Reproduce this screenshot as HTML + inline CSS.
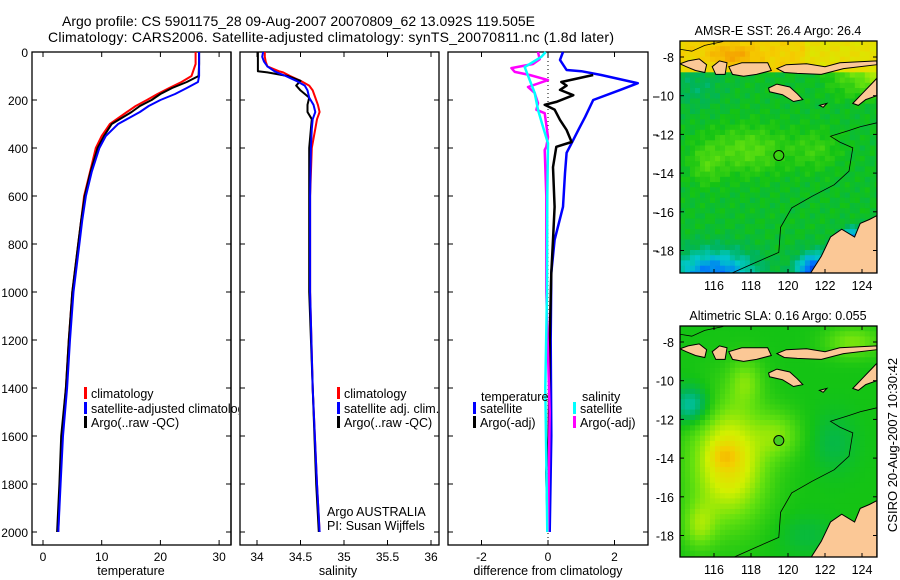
<!DOCTYPE html>
<html><head><meta charset="utf-8"><title>Argo profile</title>
<style>
html,body{margin:0;padding:0;background:#fff;}
svg{display:block;font-family:"Liberation Sans",sans-serif;}
</style></head>
<body>
<svg id="fig" width="900" height="580" viewBox="0 0 900 580" xmlns="http://www.w3.org/2000/svg">
<defs><clipPath id="legclip"><rect x="0" y="380" width="239" height="60"/></clipPath></defs>
<text x="62" y="26" font-size="14" textLength="473">Argo profile: CS 5901175_28 09-Aug-2007 20070809_62 13.092S 119.505E</text>
<text x="48" y="42" font-size="14" textLength="566">Climatology: CARS2006. Satellite-adjusted climatology: synTS_20070811.nc (1.8d later)</text>
<text transform="translate(897,445) rotate(-90)" text-anchor="middle" font-size="13">CSIRO 20-Aug-2007 10:30:42</text>
</svg>
<script>
// ---------- data ----------
const depthT = [0,50,100,125,150,175,200,225,250,300,350,400,500,600,700,800,1000,1200,1400,1600,1800,2000];
const climT = [26.0,26.0,25.3,23.6,21.5,19.5,17.7,15.8,14.3,11.4,10.0,9.0,8.0,7.0,6.5,6.0,5.0,4.4,3.9,3.2,2.9,2.6];
const satT  = [26.6,26.6,26.6,26.4,24.5,22.5,20.0,18.0,16.5,12.8,10.7,9.6,8.3,7.3,6.7,6.2,5.2,4.6,4.1,3.4,3.0,2.6];
const argoT = [26.6,26.6,26.5,24.5,22.0,20.0,18.5,16.5,15.1,11.7,10.4,9.3,8.1,7.1,6.5,6.0,5.0,4.4,3.9,3.1,2.8,2.4];
const depthS = [0,20,40,60,80,85,100,120,140,160,190,220,250,280,320,400,600,1000,1400,1800,2000];
const climS = [34.09,34.09,34.10,34.12,34.25,34.3,34.38,34.5,34.6,34.64,34.67,34.70,34.72,34.69,34.67,34.63,34.61,34.61,34.64,34.69,34.72];
const satS  = [34.07,34.06,34.08,34.12,34.2,34.23,34.33,34.45,34.55,34.58,34.6,34.65,34.67,34.64,34.63,34.62,34.61,34.61,34.64,34.69,34.72];
const argoS = [34.01,34.01,34.01,34.01,34.01,34.12,34.35,34.5,34.45,34.5,34.6,34.58,34.58,34.63,34.62,34.6,34.6,34.6,34.64,34.68,34.71];
const dTsatDepth = [0,33,75,80,96,130,158,200,270,312,380,420,505,645,783,920,1200,1600,2000];
const dTsat = [0.45,0.36,0.56,1.0,1.6,2.7,2.17,1.36,1.12,0.96,0.71,0.56,0.51,0.45,0.2,0.1,0.08,0.1,0.05];
const dTargoDepth = [96,110,125,140,158,180,208,220,240,283,325,375,395,480,645,783,920,1200,1600,1750,2000];
const dTargo = [1.36,0.9,0.4,0.56,0.36,0.76,0.25,-0.1,0.2,0.36,0.56,0.71,0.25,0.15,0.2,0.15,0.1,0.05,0.02,-0.05,0.0];
const dSargoDepth = [0,30,50,67,83,96,117,146,171,213,241,255,354,395,408,600,1000,1500,2000];
const dSargo = [-0.3,-0.25,-0.45,-1.1,-1.0,-0.55,0.0,-0.6,-0.4,-0.3,-0.35,-0.1,0,-0.05,-0.1,-0.05,-0.05,0.05,0.0];
const dSsatDepth = [0,20,63,117,171,241,312,380,600,1000,1400,1700,2000];
const dSsat = [-0.07,-0.2,-0.7,-0.55,-0.4,-0.3,-0.15,0,-0.02,-0.03,-0.08,-0.05,-0.02];
const depthTicks = [0,200,400,600,800,1000,1200,1400,1600,1800,2000];
const tempTicks = [0,10,20,30];
const salTicks = [34,34.5,35,35.5,36];
const salTickLabels = ["34","34.5","35","35.5","36"];
const diffTicks = [-2,0,2];
const lonTicks = [116,118,120,122,124];
const latTicksTop = [-8,-10,-12,-14,-16,-18];
const latTicksBot = [-8,-10,-12,-14,-16,-18];
const argoLon = 119.505, argoLat = -13.092;

const NS="http://www.w3.org/2000/svg";
const svg=document.getElementById('fig');
function mk(tag,attrs,parent){const e=document.createElementNS(NS,tag);for(const k in attrs)e.setAttribute(k,attrs[k]);(parent||svg).appendChild(e);return e;}
const yD = d => 52 + d*0.24;
const PB = 545;

function panel(name,x0,x1,xs,ticks,labels,showY){
  const g=mk('g',{});
  
  
  mk('rect',{x:x0,y:52,width:x1-x0,height:PB-52,fill:'none',stroke:'#000','stroke-width':1.3},g);
  ticks.forEach((t,i)=>{const x=xs(t);
    mk('line',{x1:x,x2:x,y1:PB,y2:PB-5,stroke:'#000'},g);
    mk('line',{x1:x,x2:x,y1:52,y2:57,stroke:'#000'},g);
    const tx=mk('text',{x:x,y:PB+16,'text-anchor':'middle','font-size':12},g);tx.textContent=labels[i];
    
    
  });
  depthTicks.forEach(d=>{const y=yD(d);
    mk('line',{x1:x0,x2:x0+5,y1:y,y2:y,stroke:'#000'},g);
    mk('line',{x1:x1,x2:x1-5,y1:y,y2:y,stroke:'#000'},g);
    if(showY){const tx=mk('text',{x:x0-4,y:y+5,'text-anchor':'end','font-size':12},g);tx.textContent=d;
      
      }
  });
  return g;
}
function line(g,xs,depths,vals,color,w,name){
  const pts=depths.map((d,i)=>xs(vals[i]).toFixed(1)+','+yD(d).toFixed(1)).join(' ');
  const p=mk('polyline',{points:pts,fill:'none',stroke:color,'stroke-width':w,'stroke-linejoin':'round'},g);
  
  
}
function legend(g,x,y,color,label,name){
  mk('rect',{x:x,y:y-10,width:3,height:12,fill:color},g);
  const t=mk('text',{x:x+7,y:y+1,'font-size':12.5},g);t.textContent=label;
  
  
}
function txt(g,x,y,s,name,size,anchor){const t=mk('text',{x:x,y:y,'font-size':size||12.5,'text-anchor':anchor||'start'},g);t.textContent=s;
  
  return t;}

// temperature panel
const xT = v => 43 + v*5.87;
const g1=panel('temperature-panel',32,231,xT,tempTicks,tempTicks.map(String),true);
line(g1,xT,depthT,climT,'#f00',2,'temp-climatology-line');
line(g1,xT,depthT,argoT,'#000',2,'temp-argo-line');
line(g1,xT,depthT,satT,'#00f',2,'temp-satellite-line');
txt(g1,131,575,'temperature','x-axis-title-temperature',12.5,'middle');
const lg1=mk('g',{'clip-path':'url(#legclip)'},g1);
legend(lg1,84,397,'#f00','climatology','legend-climatology');
legend(lg1,84,412,'#00f','satellite-adjusted climatology','legend-satellite-adjusted');
legend(lg1,84,426,'#000','Argo(..raw -QC)','legend-argo');
mk('line',{x1:231,x2:231,y1:52,y2:PB,stroke:'#000','stroke-width':1.3},g1);

// salinity panel
const xS = v => 257 + (v-34)*87;
const g2=panel('salinity-panel',240,439,xS,salTicks,salTickLabels,false);
line(g2,xS,depthS,climS,'#f00',2,'sal-climatology-line');
line(g2,xS,depthS,argoS,'#000',2,'sal-argo-line');
line(g2,xS,depthS,satS,'#00f',2,'sal-satellite-line');
txt(g2,338,575,'salinity','x-axis-title-salinity',12.5,'middle');
legend(g2,337,397,'#f00','climatology','legend-sal-climatology');
legend(g2,337,412,'#00f','satellite adj. clim.','legend-sal-satellite');
legend(g2,337,426,'#000','Argo(..raw -QC)','legend-sal-argo');
txt(g2,327,516,'Argo AUSTRALIA','argo-australia-label');
txt(g2,327,530,'PI: Susan Wijffels','pi-label');

// difference panel
const xDf = v => 548 + v*33.25;
const g3=panel('difference-panel',448,648,xDf,diffTicks,diffTicks.map(String),false);
mk('line',{x1:xDf(0),x2:xDf(0),y1:53,y2:PB,stroke:'#000','stroke-dasharray':'1,3'},g3);
line(g3,xDf,dTsatDepth,dTsat,'#00f',2.5,'diff-temp-satellite-line');
line(g3,xDf,dTargoDepth,dTargo,'#000',2.5,'diff-temp-argo-line');
line(g3,xDf,dSargoDepth,dSargo,'#f0f',2.5,'diff-sal-argo-line');
line(g3,xDf,dSsatDepth,dSsat,'#0ff',2.5,'diff-sal-satellite-line');
txt(g3,548,575,'difference from climatology','x-axis-title-difference',12.5,'middle');
txt(g3,481,401,'temperature','legend-temperature-heading');
legend(g3,473,412,'#00f','satellite','legend-diff-temp-satellite');
legend(g3,473,426,'#000','Argo(-adj)','legend-diff-temp-argo');
txt(g3,582,401,'salinity','legend-salinity-heading');
legend(g3,573,412,'#0ff','satellite','legend-diff-sal-satellite');
legend(g3,573,426,'#f0f','Argo(-adj)','legend-diff-sal-argo');
[97,135,174,213,251].forEach(y=>mk('line',{x1:653,x2:658,y1:y,y2:y,stroke:'#000'}));

// ---------- maps ----------
const cmapStops=[[0,[0,0,190]],[0.2,[0,110,255]],[0.3,[0,200,200]],[0.38,[0,180,90]],[0.45,[20,195,20]],[0.55,[100,225,15]],[0.65,[210,240,0]],[0.75,[245,205,0]],[0.85,[245,160,0]],[1,[200,20,0]]];
function cmap(v){v=Math.max(0,Math.min(1,v));for(let i=1;i<cmapStops.length;i++){if(v<=cmapStops[i][0]){const a=cmapStops[i-1],b=cmapStops[i],t=(v-a[0])/(b[0]-a[0]);return 'rgb('+a[1].map((c,k)=>Math.round(c+(b[1][k]-c)*t)).join(',')+')';}}return 'rgb(200,20,0)';}
const blob=(lon,lat,cx,cy,rx,ry,a)=>a*Math.exp(-(((lon-cx)/rx)**2+((lat-cy)/ry)**2));
function sstField(lon,lat){let v=0.43;
  if(lat>-8.7) v=0.74+blob(lon,lat,117,-7.9,1.2,0.5,0.1)-(lon>121?0.04:0);
  if(lat<=-8.7&&lat>-10.5&&lon>121.5) v+=0.2*(lon-121.5)/3*(lat+10.5)/1.8;
  v+=blob(lon,lat,117.8,-12.8,2.2,1.2,0.1)+blob(lon,lat,121.5,-12.8,1.2,1,0.06)+blob(lon,lat,115.6,-13.6,0.8,1,0.07);
  v-=blob(lon,lat,116,-19.2,2.2,1.2,0.22)+blob(lon,lat,121.5,-19.1,1,0.9,0.3)+blob(lon,lat,123.5,-17.5,0.7,0.6,0.25)+blob(lon,lat,115,-9.5,1.5,1.2,0.05);
  return v+((Math.sin(lon*7.3+lat*5.1)+Math.cos(lon*4.1-lat*6.7))*0.012);}
function slaField(lon,lat){let v=0.45;
  v+=blob(lon,lat,116.8,-14.2,2.0,3.0,0.26)+blob(lon,lat,116.6,-13.9,0.7,0.6,0.08)+blob(lon,lat,115.2,-17.5,0.9,1.2,0.12)+blob(lon,lat,117.7,-10,0.9,1.2,0.1)+blob(lon,lat,123.5,-8,1.5,0.8,0.12)+blob(lon,lat,119.5,-12.8,1.2,1.2,0.1);
  v-=blob(lon,lat,114.8,-11.3,1.1,1,0.15)+blob(lon,lat,122.5,-13.2,1.2,1.5,0.05)+blob(lon,lat,121,-18,1.5,1,0.04);
  return v;}
const coastLand=[
 [[114.16,-8.35],[114.6,-8.2],[115.2,-8.1],[115.6,-8.4],[115.5,-8.8],[115.0,-8.7],[114.5,-8.5]],
 [[115.9,-8.5],[116.3,-8.2],[116.7,-8.3],[116.6,-8.9],[116.1,-8.9]],
 [[116.8,-8.5],[117.5,-8.3],[118.2,-8.3],[118.9,-8.3],[119.1,-8.7],[118.3,-8.9],[117.6,-9.0],[117.0,-8.9]],
 [[119.4,-8.6],[119.9,-8.4],[121,-8.35],[122,-8.5],[122.8,-8.3],[124.8,-8.2],[124.8,-8.4],[123,-8.6],[121.8,-8.9],[120.5,-8.85],[119.8,-8.8]],
 [[118.95,-9.6],[119.4,-9.4],[120.1,-9.55],[120.5,-9.9],[120.8,-10.2],[120.3,-10.3],[119.7,-9.95],[119.0,-9.8]],
 [[121.7,-10.5],[122.1,-10.4],[121.9,-10.6]],
 [[123.5,-10.4],[124,-9.9],[124.5,-9.4],[124.8,-9.1],[124.8,-10.0],[124.2,-10.2],[123.8,-10.5]],
 [[121.2,-19.2],[121.8,-18.3],[122.3,-17.3],[122.9,-16.9],[123.6,-17.3],[123.9,-16.6],[124.4,-16.4],[124.8,-16.2],[124.8,-19.2]]];
const isobath=[[117.0,-19.15],[118.3,-18.6],[119.5,-18.1],[119.6,-16.8],[120.2,-15.8],[121.3,-15.2],[122.5,-14.6],[123.3,-13.9],[123.5,-12.7],[122.8,-12.4],[122.3,-12.1],[123.3,-11.8],[123.9,-11.6],[124.8,-11.4]];
function drawMap(name,top,bottom,field,latTicks,title,fillDot){
  const L=680,R=877,lon0=116,xPer=18.5,latRef=-8,yPer=19.35;
  const yRef = top===41?57:342;
  const X=lon=>714+(lon-lon0)*xPer, Y=lat=>yRef+(latRef-lat)*yPer;
  const lonL=lon0+(L-714)/xPer, latT=latRef-(top-yRef)/yPer;
  const g=mk('g',{});
  
  
  const cid='clip'+top;
  const cp=mk('clipPath',{id:cid},g);mk('rect',{x:L,y:top,width:R-L,height:bottom-top},cp);
  const cg=mk('g',{'clip-path':'url(#'+cid+')'},g);
  const step=0.27;
  for(let lon=lonL;lon<125;lon+=step){for(let lat=latT;lat>-19.5;lat-=step){
    mk('rect',{x:X(lon).toFixed(1),y:Y(lat).toFixed(1),width:(step*xPer+0.6).toFixed(1),height:(step*yPer+0.6).toFixed(1),fill:cmap(field(lon+step/2,lat-step/2))},cg);}}
  coastLand.forEach(poly=>mk('polygon',{points:poly.map(p=>X(p[0]).toFixed(1)+','+Y(p[1]).toFixed(1)).join(' '),fill:'#fbc896',stroke:'#000','stroke-width':1},cg));
  mk('polyline',{points:isobath.map(p=>X(p[0]).toFixed(1)+','+Y(p[1]).toFixed(1)).join(' '),fill:'none',stroke:'#000','stroke-width':0.8},cg);
  mk('polyline',{points:[[114.16,-7.6],[114.8,-7.7],[115.5,-7.4],[116.5,-7.2]].map(p=>X(p[0])+','+Y(p[1])).join(' '),fill:'none',stroke:'#000','stroke-width':0.8},cg);
  mk('rect',{x:L,y:top,width:R-L,height:bottom-top,fill:'none',stroke:'#000','stroke-width':1.3},g);
  const dot=mk('circle',{cx:X(argoLon),cy:Y(argoLat),r:5,fill:fillDot,stroke:'#000','stroke-width':1},g);
  
  
  lonTicks.forEach(l=>{const x=X(l);mk('line',{x1:x,x2:x,y1:bottom,y2:bottom-4,stroke:'#000'},g);mk('line',{x1:x,x2:x,y1:top,y2:top+4,stroke:'#000'},g);
    txt(g,x,bottom+17,String(l),'lon-tick-label',12.5,'middle');});
  latTicks.forEach(l=>{const y=Y(l);mk('line',{x1:L,x2:L+4,y1:y,y2:y,stroke:'#000'},g);mk('line',{x1:R,x2:R-4,y1:y,y2:y,stroke:'#000'},g);
    txt(g,L-6,y+5,String(l),'lat-tick-label',12.5,'end');});
  txt(g,778,top-6,title,name+'-title',12.5,'middle');
}
drawMap('sst-map',41,273,sstField,latTicksTop,'AMSR-E SST: 26.4 Argo: 26.4','none');
drawMap('sla-map',326,557,slaField,latTicksBot,'Altimetric SLA: 0.16 Argo: 0.055','#44cc22');
</script>
</body></html>
